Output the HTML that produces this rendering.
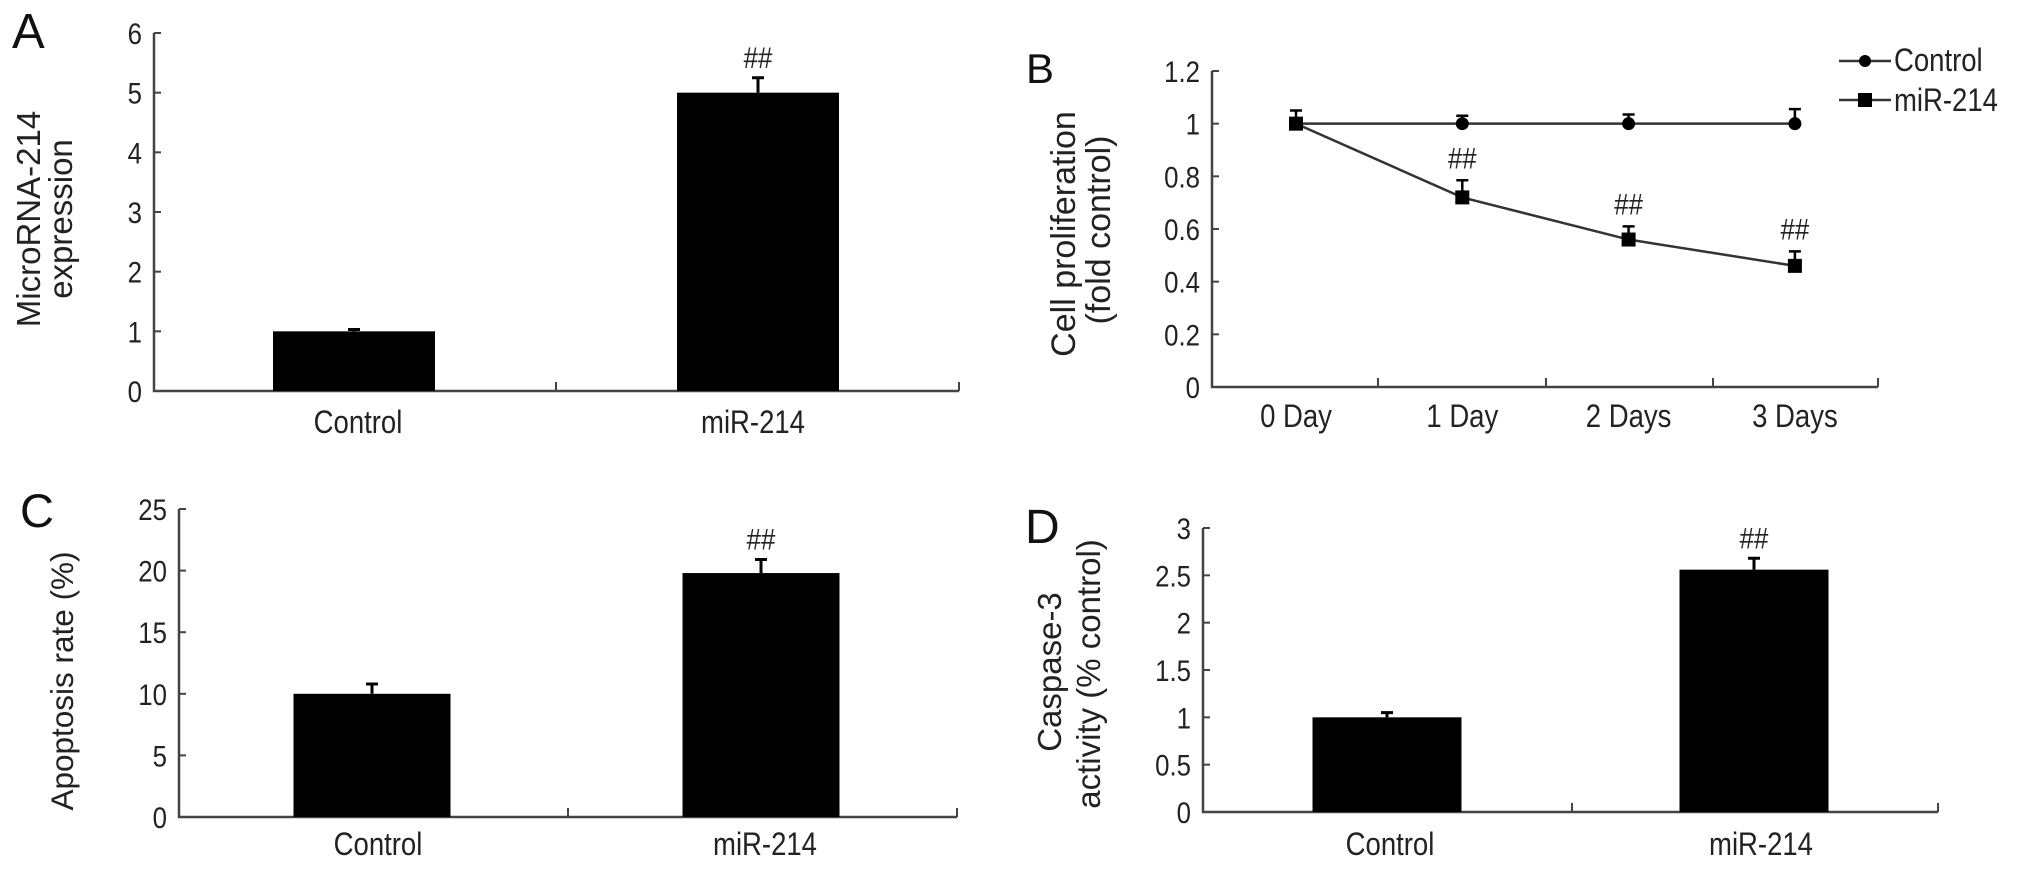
<!DOCTYPE html>
<html><head><meta charset="utf-8"><style>
html,body{margin:0;padding:0;background:#fff;}
svg{display:block;font-family:"Liberation Sans",Arial,sans-serif;}
</style></head><body>
<svg id="fig" width="2032" height="869" viewBox="0 0 2032 869">
<g fill="#111">
<text x="12" y="48" font-size="49">A</text>
<text x="1026" y="83" font-size="42">B</text>
<text x="20" y="527" font-size="47">C</text>
<text x="1025" y="543" font-size="48">D</text>
</g>
<g fill="#222" text-anchor="middle">
<text transform="translate(40,219) rotate(-90)" font-size="33">MicroRNA-214</text>
<text transform="translate(72,219) rotate(-90)" font-size="33">expression</text>
<text transform="translate(1075,234) rotate(-90)" font-size="34">Cell proliferation</text>
<text transform="translate(1110,230) rotate(-90)" font-size="34">(fold control)</text>
<text transform="translate(73,681) rotate(-90)" font-size="31.5">Apoptosis rate (%)</text>
<text transform="translate(1061,672) rotate(-90)" font-size="33">Caspase-3</text>
<text transform="translate(1100,674) rotate(-90)" font-size="33">activity (% control)</text>
</g>
</svg>
<script>
// Panel A data
const catsA = ["Control","miR-214"];
const valsA = [1.0, 5.0];
const errA = [0.03, 0.25];
const sigA = ["", "##"];
const ticksA = [0,1,2,3,4,5,6];
// Panel C data
const catsC = ["Control","miR-214"];
const valsC = [10.0, 19.8];
const errC = [0.8, 1.1];
const sigC = ["", "##"];
const ticksC = [0,5,10,15,20,25];
// Panel D data
const catsD = ["Control","miR-214"];
const valsD = [1.0, 2.56];
const errD = [0.05, 0.12];
const sigD = ["", "##"];
const ticksD = [0,0.5,1,1.5,2,2.5,3];
const tickLabelsD = ["0","0.5","1","1.5","2","2.5","3"];
// Panel B data
const daysB = ["0 Day","1 Day","2 Days","3 Days"];
const ctrlB = [1.0, 1.0, 1.0, 1.0];
const ctrlErrB = [0.05, 0.03, 0.035, 0.055];
const mirB = [1.0, 0.72, 0.56, 0.46];
const mirErrB = [0.0, 0.065, 0.05, 0.055];
const sigB = ["", "##", "##", "##"];
const ticksB = [0,0.2,0.4,0.6,0.8,1,1.2];
const tickLabelsB = ["0","0.2","0.4","0.6","0.8","1","1.2"];

const NS="http://www.w3.org/2000/svg";
const svg=document.getElementById('fig');
const SX=0.86;
function mk(tag,attrs,parent){const e=document.createElementNS(NS,tag);for(const k in attrs)e.setAttribute(k,attrs[k]);(parent||svg).appendChild(e);return e;}
function ctext(x,y,anchor,size,parent,str){
  const t=mk('text',{x:0,y:0,transform:`translate(${x},${y}) scale(${SX},1)`,'text-anchor':anchor,'font-size':size,fill:'#222'},parent);
  t.textContent=str;
  return t;
}

function barPanel(p,cats,vals,errs,sigs,ticks,tlabels,name){
  const g=mk('g',{});
  
  
  const y=v=>p.y0-(v-ticks[0])/(ticks[ticks.length-1]-ticks[0])*(p.y0-p.yTop);
  const ax=mk('path',{d:`M${p.ax},${y(ticks[ticks.length-1])}V${p.y0}H${p.xEnd}`,stroke:'#444','stroke-width':2.5,fill:'none'},g);
  
  
  ticks.forEach((t,i)=>{
    mk('line',{x1:p.ax,x2:p.ax+7,y1:y(t),y2:y(t),stroke:'#444','stroke-width':2},g);
    const tl=ctext(p.ax-12,y(t)+11,'end',30,g,tlabels?tlabels[i]:String(t));
    
    
  });
  [p.mid,p.xEnd].forEach(x=>mk('line',{x1:x,x2:x,y1:p.y0,y2:p.y0-9,stroke:'#444','stroke-width':2},g));
  cats.forEach((c,i)=>{
    const cx=p.centers[i];
    const top=y(vals[i]);
    const b=mk('rect',{x:cx-p.bw/2,y:top,width:p.bw,height:p.y0-top,fill:'#000'},g);
    
    
    const et=y(vals[i]+errs[i]);
    const eb=mk('path',{d:`M${cx},${top}V${et}M${cx-6},${et}H${cx+6}`,stroke:'#000','stroke-width':3,fill:'none'},g);
    
    
    if(sigs[i]){
      const s=ctext(cx,et-10,'middle',30,g,sigs[i]);
      
      
    }
    const xl=ctext(p.labelX[i],p.labelY,'middle',32,g,c);
    
    
  });
}
barPanel({ax:154,y0:391,yTop:33,xEnd:959,mid:556,centers:[354,758],bw:162,labelX:[358,753],labelY:433},catsA,valsA,errA,sigA,ticksA,null,'panel-a-chart');
barPanel({ax:179,y0:817,yTop:509,xEnd:957,mid:568,centers:[372,761],bw:157,labelX:[378,765],labelY:855},catsC,valsC,errC,sigC,ticksC,null,'panel-c-chart');
barPanel({ax:1203,y0:812,yTop:528,xEnd:1938,mid:1572,centers:[1387,1754],bw:149,labelX:[1390,1761],labelY:855},catsD,valsD,errD,sigD,ticksD,tickLabelsD,'panel-d-chart');

// Panel B line chart
(function(){
  const g=mk('g',{});
  
  
  const ax=1212,y0=387,yTop=71,xEnd=1878;
  const y=v=>y0-v/1.2*(y0-yTop);
  const xs=i=>1296+i*166.3;
  const a=mk('path',{d:`M${ax},${yTop}V${y0}H${xEnd}`,stroke:'#444','stroke-width':2.5,fill:'none'},g);
  
  
  ticksB.forEach((t,i)=>{
    mk('line',{x1:ax,x2:ax+7,y1:y(t),y2:y(t),stroke:'#444','stroke-width':2},g);
    const tl=ctext(ax-12,y(t)+11,'end',30,g,tickLabelsB[i]);
    
    
  });
  [1378,1546,1713,xEnd].forEach(x=>mk('line',{x1:x,x2:x,y1:y0,y2:y0-9,stroke:'#444','stroke-width':2},g));
  daysB.forEach((d,i)=>{
    const t=ctext(xs(i),427,'middle',32,g,d);
    
    
  });
  const lineC=mk('polyline',{points:ctrlB.map((v,i)=>xs(i)+','+y(v)).join(' '),stroke:'#333','stroke-width':2.5,fill:'none'},g);
  
  
  const lineM=mk('polyline',{points:mirB.map((v,i)=>xs(i)+','+y(v)).join(' '),stroke:'#333','stroke-width':2.5,fill:'none'},g);
  
  
  ctrlB.forEach((v,i)=>{
    const cx=xs(i),cy=y(v),et=y(v+ctrlErrB[i]);
    mk('path',{d:`M${cx},${cy}V${et}M${cx-6},${et}H${cx+6}`,stroke:'#000','stroke-width':2.5,fill:'none'},g);
    const c=mk('circle',{cx:cx,cy:cy,r:6.5,fill:'#000'},g);
    
    
  });
  mirB.forEach((v,i)=>{
    const cx=xs(i),cy=y(v),et=y(v+mirErrB[i]);
    if(mirErrB[i]>0) mk('path',{d:`M${cx},${cy}V${et}M${cx-6},${et}H${cx+6}`,stroke:'#000','stroke-width':2.5,fill:'none'},g);
    const s=mk('rect',{x:cx-7,y:cy-7,width:14,height:14,fill:'#000'},g);
    
    
    if(sigB[i]){
      const t=ctext(cx,et-12,'middle',30,g,sigB[i]);
      
      
    }
  });
  // legend
  const lg=mk('g',{},g);
  
  
  mk('line',{x1:1839,x2:1891,y1:61,y2:61,stroke:'#333','stroke-width':2.5},lg);
  mk('circle',{cx:1865,cy:61,r:6,fill:'#000'},lg);
  const t1=ctext(1894,71,'start',32,lg,'Control');
  
  
  mk('line',{x1:1839,x2:1891,y1:100,y2:100,stroke:'#333','stroke-width':2.5},lg);
  mk('rect',{x:1858,y:93,width:14,height:14,fill:'#000'},lg);
  const t2=ctext(1894,111,'start',32,lg,'miR-214');
  
  
})();
</script>
</body></html>
